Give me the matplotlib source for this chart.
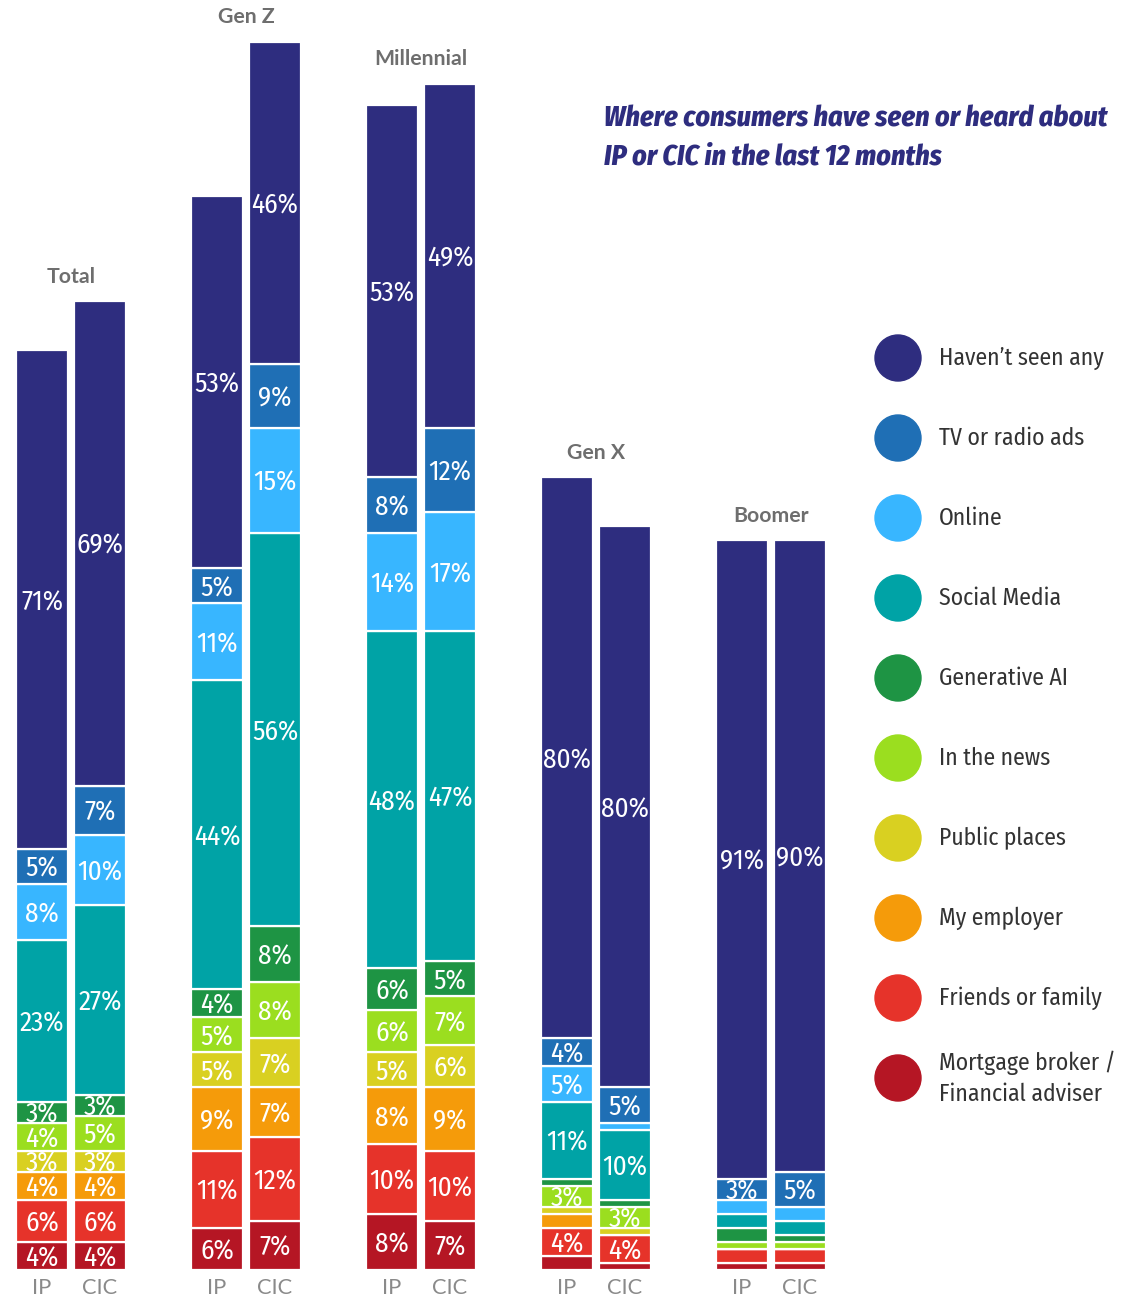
import matplotlib
matplotlib.use("Agg")
import matplotlib.pyplot as plt
from matplotlib.patches import Circle
from matplotlib import font_manager

# ---- data -------------------------------------------------------------
groups = ["Total", "Gen Z", "Millennial", "Gen X", "Boomer"]
bar_kinds = ["IP", "CIC"]

# one value per bar: Total IP, Total CIC, Gen Z IP, Gen Z CIC, ...
havent_seen   = [71, 69, 53, 46, 53, 49, 80, 80, 91, 90]
tv_radio      = [5, 7, 5, 9, 8, 12, 4, 5, 3, 5]
online        = [8, 10, 11, 15, 14, 17, 5, 1, 2, 2]
social_media  = [23, 27, 44, 56, 48, 47, 11, 10, 2, 2]
generative_ai = [3, 3, 4, 8, 6, 5, 1, 1, 2, 1]
in_the_news   = [4, 5, 5, 8, 6, 7, 3, 3, 1, 1]
public_places = [3, 3, 5, 7, 5, 6, 1, 1, 0, 0]
my_employer   = [4, 4, 9, 7, 8, 9, 2, 0, 0, 0]
friends       = [6, 6, 11, 12, 10, 10, 4, 4, 2, 2]
mortgage      = [4, 4, 6, 7, 8, 7, 2, 1, 1, 1]

legend_labels = ["Haven\u2019t seen any", "TV or radio ads", "Online", "Social Media",
                 "Generative AI", "In the news", "Public places", "My employer",
                 "Friends or family", "Mortgage broker /\nFinancial adviser"]

# stacked bottom-up
stack_order = [mortgage, friends, my_employer, public_places, in_the_news,
               generative_ai, social_media, online, tv_radio, havent_seen]
stack_colors = ["#B51624", "#E6332A", "#F59B0A", "#D9D021", "#9BDE1F",
                "#1E9444", "#00A3A6", "#38B6FF", "#1F6FB5", "#2E2D7F"]
legend_colors = stack_colors[::-1]

title_text = "Where consumers have seen or heard about\nIP or CIC in the last 12 months"

# ---- fonts ------------------------------------------------------------
names = {f.name for f in font_manager.fontManager.ttflist}


def pick(cands):
    for c in cands:
        if c in names:
            return c
    return "DejaVu Sans"


cond_font = pick(["Fira Sans Condensed", "Fira Sans Extra Condensed", "Barlow Semi Condensed",
                  "Roboto Condensed", "PT Sans Narrow", "Archivo Narrow",
                  "Liberation Sans Narrow", "Open Sans"])
title_font = pick(["Fira Sans Condensed", "Barlow Semi Condensed", "Roboto Condensed",
                   "Fira Sans Extra Condensed", "Archivo Narrow", "Open Sans"])
geo_font = pick(["Lato", "Open Sans", "DejaVu Sans"])
plt.rcParams["font.family"] = [cond_font, "DejaVu Sans"]

W, H = 1129, 1296
fig = plt.figure(figsize=(W / 100, H / 100), dpi=100)
renderer = fig.canvas.get_renderer()


def fit_width(t, target_px):
    """Rescale a text's font size so its rendered width equals target_px."""
    w = t.get_window_extent(renderer).width
    if w > 0:
        t.set_fontsize(t.get_fontsize() * target_px / w)


# bar axes: y in percent, about 7 px per percentage point, baseline 26 px above bottom
px_per_pct = 7.02
base_px = 26
ax = fig.add_axes([0, base_px / H, 1, (H - base_px) / H])
ax.set_xlim(0, W)
ax.set_ylim(0, (H - base_px) / px_per_pct)
ax.axis("off")

group_left = 16
group_step = 175
bar_w = 52
bar_gap = 6

n_bars = len(havent_seen)
centers = []
for i in range(n_bars):
    g, k = divmod(i, 2)
    centers.append(group_left + g * group_step + k * (bar_w + bar_gap) + bar_w / 2)

# reference size for in-bar labels
probe = ax.text(0, 0, "71%", fontsize=17, fontweight="normal")
fit_width(probe, 42)
label_size = probe.get_fontsize()
probe.remove()

bottoms = [0.0] * n_bars
for series, color in zip(stack_order, stack_colors):
    ax.bar(centers, series, width=bar_w, bottom=bottoms, color=color,
           edgecolor="white", linewidth=1.6)
    for i, v in enumerate(series):
        if v >= 3:
            ax.text(centers[i], bottoms[i] + v / 2 - 0.4, f"{v}%", color="white",
                    ha="center", va="center", fontsize=label_size, fontweight="normal")
    bottoms = [b + v for b, v in zip(bottoms, series)]

# group titles and bar kind labels
probe = ax.text(0, 0, "Millennial", fontsize=13, fontweight="bold", family=geo_font)
fit_width(probe, 93)
group_size = probe.get_fontsize()
probe.remove()
probe = ax.text(0, 0, "CIC", fontsize=14, fontweight="normal", family=geo_font)
fit_width(probe, 35)
kind_size = probe.get_fontsize()
probe.remove()

for g, name in enumerate(groups):
    top = max(bottoms[2 * g], bottoms[2 * g + 1])
    cx = (centers[2 * g] + centers[2 * g + 1]) / 2
    ax.text(cx, top + 3.45, name, ha="center", va="center", fontsize=group_size,
            fontweight="bold", color="#6E6E6E", family=geo_font)
    for k in range(2):
        ax.text(centers[2 * g + k], -2.5, bar_kinds[k], ha="center", va="center",
                fontsize=kind_size, fontweight="normal", color="#8A8A8A",
                family=geo_font, clip_on=False)

# overlay axes in pixel coordinates for title and legend
ov = fig.add_axes([0, 0, 1, 1])
ov.set_xlim(0, W)
ov.set_ylim(H, 0)
ov.axis("off")

title = ov.text(604, 138, title_text, ha="left", va="center", fontsize=23,
                fontweight="heavy", style="italic", color="#2E2D7F",
                linespacing=1.42, family=title_font)
fit_width(title, 504)

probe = ov.text(0, 0, legend_labels[0], fontsize=17, family=cond_font)
fit_width(probe, 165)
legend_size = probe.get_fontsize()
probe.remove()

for i, (lab, col) in enumerate(zip(legend_labels, legend_colors)):
    y = 358 + 80 * i
    ov.add_patch(Circle((898, y), 23, color=col))
    ov.text(939, y, lab, ha="left", va="center", fontsize=legend_size,
            color="#333333", linespacing=1.4)

fig.savefig("out.png", dpi=100)
